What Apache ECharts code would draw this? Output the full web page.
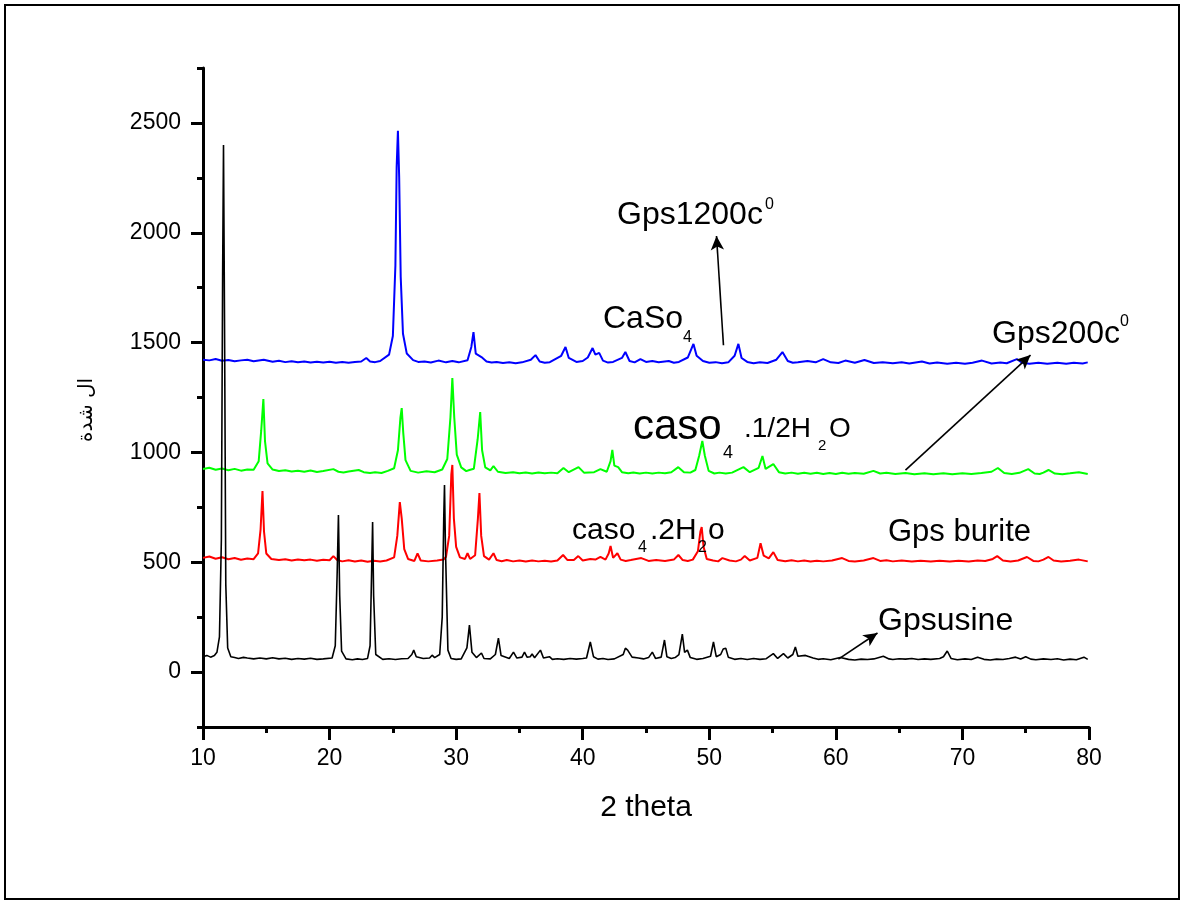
<!DOCTYPE html>
<html>
<head>
<meta charset="utf-8">
<script src="https://cdn.jsdelivr.net/npm/echarts@6/dist/echarts.min.js"></script>
<style>
html,body{margin:0;padding:0;background:#fff;}
#chart{width:1184px;height:902px;}
</style>
</head>
<body>
<div id="chart"></div>
<script>
// ---- data: [2theta, intensity] ----
const gpsUsine = [[10.0,70],[10.3,76],[10.6,68],[10.9,75],[11.1,90],[11.3,160],[11.45,600],[11.55,1800],[11.62,2400],[11.7,1600],[11.8,400],[11.95,110],[12.2,70],[12.5,66],[12.8,62],[13.2,67],[13.5,64],[14.0,60],[14.5,64],[15.0,60],[15.5,65],[16.0,60],[16.5,63],[17.0,58],[17.5,62],[18.0,59],[18.5,63],[19.0,58],[19.5,60],[20.2,64],[20.45,120],[20.6,450],[20.7,715],[20.8,350],[20.95,95],[21.3,60],[21.8,56],[22.2,60],[22.6,57],[23.0,62],[23.2,120],[23.32,450],[23.4,683],[23.48,350],[23.65,80],[24.2,58],[24.7,61],[25.2,57],[25.7,61],[26.2,62],[26.5,80],[26.65,100],[26.85,70],[27.4,62],[27.9,64],[28.1,77],[28.3,66],[28.7,80],[28.9,250],[29.02,700],[29.08,852],[29.16,550],[29.35,100],[29.6,62],[30.0,58],[30.4,60],[30.85,110],[31.05,214],[31.25,90],[31.6,66],[32.0,87],[32.2,62],[32.7,60],[33.1,80],[33.34,155],[33.55,75],[34.2,62],[34.53,91],[34.8,64],[35.2,68],[35.4,91],[35.6,68],[35.85,70],[36.0,82],[36.2,65],[36.66,100],[36.9,64],[37.37,70],[37.6,58],[38.0,61],[38.5,58],[39.0,62],[39.5,59],[40.0,62],[40.3,64],[40.6,137],[40.85,70],[41.2,59],[41.6,62],[42.0,57],[42.5,60],[43.2,80],[43.37,109],[43.55,100],[43.7,105],[43.9,68],[44.4,64],[44.8,60],[45.2,66],[45.5,91],[45.75,62],[46.2,68],[46.46,146],[46.65,70],[47.0,62],[47.3,66],[47.6,80],[47.87,173],[48.05,90],[48.27,100],[48.5,66],[49.0,58],[49.5,62],[50.1,72],[50.33,137],[50.55,70],[50.9,80],[51.1,105],[51.3,109],[51.5,68],[52.0,58],[52.5,62],[53.0,57],[53.5,62],[54.0,58],[54.5,61],[55.06,84],[55.4,62],[55.86,84],[56.2,64],[56.6,80],[56.8,114],[57.0,72],[57.6,76],[58.2,64],[58.6,58],[59.0,61],[59.6,56],[60.35,66],[61.0,58],[61.5,55],[62.0,59],[62.5,57],[63.0,60],[63.75,72],[64.2,60],[64.5,57],[65.0,61],[65.5,59],[66.0,62],[66.5,57],[67.0,60],[67.5,58],[68.2,62],[68.5,70],[68.8,96],[69.1,62],[69.6,56],[70.2,60],[70.7,57],[71.2,68],[71.7,58],[72.2,55],[72.7,59],[73.2,57],[73.7,62],[74.2,68],[74.6,60],[75.0,70],[75.4,59],[75.8,56],[76.4,60],[77.0,57],[77.5,61],[78.0,55],[78.5,59],[79.0,56],[79.6,68],[79.9,58]];

const gpsBurite = [[10.0,520],[10.5,526],[11.0,516],[11.5,523],[12.0,514],[12.5,519],[13.0,511],[13.5,517],[14.0,514],[14.35,540],[14.55,650],[14.7,824],[14.82,640],[15.0,540],[15.4,515],[16.0,510],[16.5,514],[17.0,508],[17.5,513],[18.0,509],[18.5,512],[19.0,507],[19.5,511],[20.0,509],[20.3,528],[20.6,510],[21.0,504],[21.5,509],[22.0,503],[22.5,508],[23.0,502],[23.5,507],[24.0,503],[24.5,508],[25.1,522],[25.35,620],[25.55,774],[25.7,700],[25.9,560],[26.2,515],[26.7,506],[26.95,540],[27.05,542],[27.2,508],[27.8,504],[28.5,508],[29.0,512],[29.2,525],[29.45,620],[29.62,900],[29.7,943],[29.82,700],[30.0,570],[30.3,522],[30.7,515],[30.9,541],[31.1,515],[31.5,532],[31.72,700],[31.84,815],[31.98,620],[32.2,528],[32.6,512],[32.95,541],[33.2,510],[33.6,505],[34.0,510],[34.5,504],[35.0,508],[35.5,503],[36.0,508],[36.5,504],[37.0,507],[37.5,503],[38.0,508],[38.45,533],[38.8,510],[39.3,510],[39.65,528],[40.0,508],[40.6,515],[41.0,512],[41.4,524],[41.8,512],[42.05,540],[42.2,574],[42.4,520],[42.74,541],[43.0,512],[43.4,506],[43.8,510],[44.63,519],[45.2,506],[45.8,510],[46.5,506],[47.2,512],[47.56,533],[47.9,510],[48.3,506],[48.7,512],[49.1,550],[49.3,640],[49.4,660],[49.55,570],[49.8,515],[50.3,508],[50.7,504],[51.04,519],[51.6,508],[52.1,504],[52.5,512],[52.8,528],[53.2,508],[53.8,520],[54.05,587],[54.3,530],[54.7,518],[55.06,546],[55.4,510],[56.0,505],[56.5,509],[57.0,504],[57.5,508],[58.0,503],[58.5,507],[59.0,504],[59.7,508],[60.5,519],[61.0,506],[61.5,503],[62.2,508],[62.97,519],[63.5,506],[64.0,509],[64.5,504],[65.2,508],[66.0,503],[66.7,507],[67.5,503],[68.2,507],[69.0,503],[69.7,507],[70.5,503],[71.2,508],[71.8,506],[72.4,515],[72.75,528],[73.2,508],[73.8,503],[74.4,508],[75.1,524],[75.6,506],[76.0,504],[76.4,512],[76.8,524],[77.2,508],[77.8,503],[78.5,507],[79.2,512],[79.9,504]];

const gps200 = [[10.0,925],[10.5,930],[11.0,921],[11.5,927],[12.0,919],[12.5,925],[13.0,917],[13.5,922],[14.0,921],[14.4,960],[14.6,1100],[14.77,1243],[14.9,1050],[15.1,950],[15.5,922],[16.0,915],[16.5,919],[17.0,913],[17.5,917],[18.0,912],[18.5,918],[19.0,911],[19.5,915],[20.3,924],[20.7,912],[21.1,909],[21.5,913],[22.3,920],[22.7,910],[23.2,906],[23.6,910],[24.1,906],[24.6,916],[25.1,928],[25.4,1010],[25.6,1160],[25.7,1202],[25.82,1090],[26.0,965],[26.4,916],[27.0,908],[27.66,914],[28.3,910],[28.9,922],[29.3,970],[29.55,1160],[29.7,1339],[29.85,1160],[30.05,990],[30.4,932],[30.8,915],[31.05,920],[31.4,926],[31.7,1060],[31.9,1184],[32.05,1010],[32.3,932],[32.7,918],[32.95,938],[33.3,912],[33.9,906],[34.5,910],[35.0,905],[35.5,909],[36.0,904],[36.5,909],[37.0,905],[37.5,908],[38.0,905],[38.48,929],[38.9,910],[39.67,933],[40.1,908],[40.9,910],[41.4,924],[41.9,912],[42.2,960],[42.34,1011],[42.5,940],[42.8,933],[43.1,910],[43.6,905],[44.0,909],[44.5,904],[45.0,908],[45.5,904],[46.0,908],[46.5,905],[47.0,910],[47.55,933],[48.0,910],[48.5,908],[48.9,920],[49.2,985],[49.45,1052],[49.65,985],[49.95,916],[50.4,904],[50.8,908],[51.3,904],[51.8,908],[52.7,933],[53.2,910],[53.9,930],[54.2,984],[54.45,925],[55.06,947],[55.5,910],[56.0,904],[56.5,908],[57.0,903],[57.5,907],[58.0,903],[58.5,907],[59.0,902],[59.5,906],[60.0,902],[60.5,907],[61.0,903],[61.5,906],[62.2,903],[62.97,916],[63.5,904],[64.0,907],[64.7,902],[65.5,906],[66.2,901],[67.0,905],[67.7,901],[68.5,905],[69.2,901],[70.0,905],[70.7,902],[71.5,906],[72.3,912],[72.8,929],[73.3,906],[73.9,902],[74.5,907],[75.2,924],[75.7,904],[76.1,902],[76.4,908],[76.8,920],[77.3,904],[77.9,901],[78.5,905],[79.2,910],[79.9,902]];

const gps1200 = [[10.0,1422],[10.5,1419],[11.0,1425],[11.5,1417],[12.0,1421],[12.5,1415],[13.0,1419],[13.5,1422],[14.0,1415],[14.8,1422],[15.5,1413],[16.0,1417],[16.5,1411],[17.0,1415],[17.5,1410],[18.0,1414],[18.5,1409],[19.0,1413],[19.5,1409],[20.0,1413],[20.5,1408],[21.0,1412],[21.5,1408],[22.0,1412],[22.5,1414],[22.9,1430],[23.2,1414],[23.6,1411],[24.0,1416],[24.7,1445],[25.0,1530],[25.2,1850],[25.3,2300],[25.4,2464],[25.5,2250],[25.62,1800],[25.8,1540],[26.1,1450],[26.6,1420],[27.0,1412],[27.5,1414],[28.0,1409],[28.6,1418],[29.2,1410],[29.7,1416],[30.2,1410],[30.9,1420],[31.2,1480],[31.37,1548],[31.55,1450],[32.0,1434],[32.4,1414],[32.8,1409],[33.2,1412],[33.7,1407],[34.2,1410],[34.7,1406],[35.2,1410],[35.9,1422],[36.27,1443],[36.6,1414],[37.0,1408],[37.4,1411],[38.3,1440],[38.64,1480],[38.9,1430],[39.5,1412],[40.0,1416],[40.4,1432],[40.78,1475],[41.0,1445],[41.3,1453],[41.6,1418],[42.0,1409],[42.4,1412],[43.1,1430],[43.37,1457],[43.7,1416],[44.1,1410],[44.56,1425],[45.0,1412],[45.5,1416],[46.0,1410],[46.8,1416],[47.2,1408],[47.6,1412],[48.3,1432],[48.75,1494],[49.0,1440],[49.5,1416],[50.0,1408],[50.5,1411],[51.0,1406],[51.5,1410],[52.0,1440],[52.3,1494],[52.55,1430],[53.0,1412],[53.5,1406],[54.0,1410],[54.6,1407],[55.3,1422],[55.78,1457],[56.2,1416],[56.6,1408],[57.0,1410],[57.76,1416],[58.4,1410],[59.0,1425],[59.6,1410],[60.2,1407],[60.75,1418],[61.5,1408],[62.26,1421],[63.0,1407],[63.7,1411],[64.5,1406],[65.2,1410],[65.8,1405],[66.8,1414],[67.4,1405],[68.0,1409],[68.8,1404],[69.5,1408],[70.2,1404],[70.8,1408],[71.55,1418],[72.3,1405],[73.0,1409],[73.5,1406],[74.3,1425],[74.7,1408],[75.3,1404],[76.0,1408],[76.7,1404],[77.5,1408],[78.2,1404],[78.8,1408],[79.5,1405],[79.9,1410]];

const yLabelTicks = [0, 500, 1000, 1500, 2000, 2500];
const yMinorTicks = [-250, 250, 750, 1250, 1750, 2250, 2750];
const xAxisName = '2 theta';
const yAxisName = 'ال شدة';

// annotation arrows: [fromX, fromY, toX, toY] in data units
const arrows = [[51.12,1488,50.57,1985],[65.5,919,75.38,1443],[60.2,59,63.29,178]];

const FONT = '"Liberation Sans", Arial, sans-serif';
const chart = echarts.init(document.getElementById('chart'), null, {renderer:'canvas'});

function txt(text, x, y, size) {
  return { type:'text', x:x, y:y, z:100,
    style:{ text:text, fontSize:size, fontFamily:FONT, fill:'#000', textVerticalAlign:'middle', textAlign:'left' } };
}

const option = {
  animation:false,
  backgroundColor:'#fff',
  grid:{ left:203, right:95, top:68, bottom:175, containLabel:false },
  xAxis:{
    type:'value', min:10, max:80, interval:10,
    name:xAxisName, nameLocation:'middle', nameGap:66,
    nameTextStyle:{ fontFamily:FONT, fontSize:30, color:'#000' },
    axisLine:{ show:true, onZero:false, lineStyle:{ color:'#000', width:3 } },
    axisTick:{ show:true, inside:false, length:13, lineStyle:{ color:'#000', width:3 } },
    minorTick:{ show:true, splitNumber:2, length:6, lineStyle:{ color:'#000', width:3 } },
    axisLabel:{ fontFamily:FONT, fontSize:23, color:'#000', margin:20 },
    splitLine:{ show:false }
  },
  yAxis:[{
    type:'value', min:-250, max:2750,
    axisLine:{ show:true, onZero:false, lineStyle:{ color:'#000', width:3 } },
    axisTick:{ show:true, length:12, customValues:yLabelTicks, lineStyle:{ color:'#000', width:3 } },
    axisLabel:{ fontFamily:FONT, fontSize:23, color:'#000', margin:22, customValues:yLabelTicks,
      formatter:function(v){ return String(v); } },
    splitLine:{ show:false }
  },{
    type:'value', min:-250, max:2750, position:'left',
    axisLine:{ show:false },
    axisTick:{ show:true, length:6, customValues:yMinorTicks, lineStyle:{ color:'#000', width:3 } },
    axisLabel:{ show:false },
    splitLine:{ show:false }
  }],
  series:[
    { name:'Gps1200c', type:'line', data:gps1200, showSymbol:false, lineStyle:{ color:'#0000ff', width:2 }, itemStyle:{color:'#0000ff'} },
    { name:'Gps200c', type:'line', data:gps200, showSymbol:false, lineStyle:{ color:'#00ff00', width:2 }, itemStyle:{color:'#00ff00'} },
    { name:'Gps burite', type:'line', data:gpsBurite, showSymbol:false, lineStyle:{ color:'#ff0000', width:2 }, itemStyle:{color:'#ff0000'} },
    { name:'Gpsusine', type:'line', data:gpsUsine, showSymbol:false, lineStyle:{ color:'#000', width:1.6 }, itemStyle:{color:'#000'},
      markLine:{ silent:true, symbol:['none','arrow'], symbolSize:[10,14], animation:false,
        label:{ show:false },
        lineStyle:{ color:'#000', width:1.6, type:'solid' },
        data: arrows.map(a => [{ coord:[a[0],a[1]] }, { coord:[a[2],a[3]] }]) } }
  ],
  graphic:[
    { type:'rect', shape:{ x:5, y:5, width:1174, height:894 }, style:{ fill:'none', stroke:'#000', lineWidth:2 }, z:0 },
    { type:'text', x:87, y:410, rotation:Math.PI/2, z:100,
      style:{ text:yAxisName, fontSize:20, fontFamily:'"DejaVu Sans", sans-serif', fill:'#000', textAlign:'center', textVerticalAlign:'middle' } },
    txt('Gps1200c', 617, 215, 32), txt('0', 765, 205, 16),
    txt('CaSo', 603, 319, 32), txt('4', 683, 338, 16),
    txt('Gps200c', 992, 334, 32), txt('0', 1120, 322, 16),
    txt('caso', 633, 427, 42), txt('4', 723, 453, 18), txt('.1/2H', 744, 429, 28), txt('2', 818, 446, 15), txt('O', 829, 429, 28),
    txt('caso', 572, 531, 30), txt('4', 638, 548, 16), txt('.2H', 650, 531, 30), txt('2', 698, 548, 16), txt('o', 708, 531, 30),
    txt('Gps burite', 888, 532, 31),
    txt('Gpsusine', 878, 621, 32)
  ]
};
chart.setOption(option);
</script>
</body>
</html>
